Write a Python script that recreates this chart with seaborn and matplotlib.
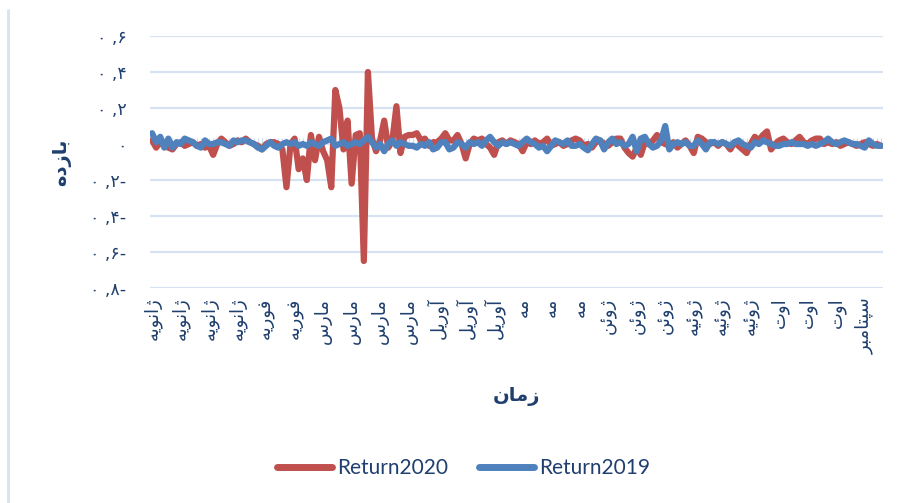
import numpy as np
import pandas as pd
import seaborn as sns
import matplotlib
matplotlib.use("Agg")
import matplotlib.pyplot as plt
from matplotlib.lines import Line2D

# daily returns (180 trading days, Jan -> Sep)
return2020 = [
    0.02, -0.02, 0.01, -0.01, -0.02, -0.03, 0.00, 0.01, -0.01, 0.00,
    0.01, -0.01, 0.00, -0.02, -0.01, -0.06, 0.00, 0.03, 0.01, -0.01,
    0.00, 0.02, 0.01, 0.03, 0.01, 0.00, -0.01, -0.03, 0.00, 0.01,
    0.01, 0.00, -0.03, -0.24, 0.00, 0.03, -0.14, -0.08, -0.20, 0.05,
    -0.09, 0.04, -0.04, -0.09, -0.24, 0.30, 0.20, -0.03, 0.13, -0.22,
    0.05, 0.06, -0.65, 0.40, 0.03, -0.04, 0.02, 0.13, -0.02, 0.02,
    0.21, -0.05, 0.04, 0.05, 0.05, 0.06, 0.02, 0.03, -0.01, 0.01,
    0.01, 0.03, 0.06, 0.02, 0.02, 0.05, 0.00, -0.08, 0.00, 0.03,
    0.02, 0.03, 0.00, -0.02, -0.06, 0.01, 0.02, 0.00, 0.02, 0.01,
    0.00, -0.04, 0.01, 0.00, 0.02, 0.00, 0.01, 0.03, -0.01, 0.00,
    0.01, -0.01, 0.00, 0.02, 0.03, 0.02, -0.01, 0.00, -0.02, 0.01,
    0.02, 0.00, -0.01, 0.01, 0.03, 0.03, -0.02, -0.05, -0.07, -0.02,
    -0.06, 0.01, 0.00, 0.02, 0.05, 0.01, 0.00, -0.01, 0.01, -0.02,
    0.00, 0.02, -0.01, -0.05, 0.04, 0.03, 0.01, 0.00, 0.01, -0.01,
    0.01, 0.00, -0.03, 0.01, -0.01, -0.03, -0.05, 0.00, 0.04, 0.02,
    0.05, 0.07, -0.03, 0.00, 0.02, 0.03, 0.01, 0.00, 0.02, 0.04,
    0.01, 0.00, 0.02, 0.03, 0.03, 0.00, 0.01, 0.00, 0.01, -0.01,
    0.00, 0.01, 0.00, -0.01, 0.00, 0.01, 0.00, -0.01, 0.00, -0.01,
]
return2019 = [
    0.06, 0.01, 0.04, -0.02, 0.03, -0.02, 0.01, 0.00, 0.03, 0.02,
    0.01, -0.01, -0.02, 0.02, 0.00, 0.00, 0.01, 0.01, 0.00, -0.01,
    0.02, 0.01, 0.02, 0.02, 0.01, 0.00, -0.02, -0.03, -0.01, 0.01,
    -0.01, -0.02, 0.00, 0.01, 0.00, 0.01, -0.01, 0.00, -0.01, 0.01,
    0.00, -0.01, 0.01, 0.02, 0.03, -0.01, 0.00, 0.01, -0.01, 0.00,
    0.01, 0.00, 0.02, 0.04, 0.01, -0.02, 0.00, -0.04, 0.00, 0.02,
    -0.01, 0.01, 0.00, -0.01, -0.01, -0.02, 0.00, -0.01, 0.01, -0.03,
    -0.02, 0.01, 0.01, -0.03, -0.02, 0.01, 0.00, -0.02, 0.01, 0.00,
    0.01, -0.01, 0.02, 0.04, 0.01, -0.01, 0.01, 0.00, 0.01, 0.00,
    -0.01, 0.01, 0.03, 0.01, 0.00, -0.02, -0.01, -0.04, -0.01, 0.02,
    0.01, 0.00, 0.02, -0.01, -0.01, 0.00, -0.02, -0.035, 0.00, 0.03,
    0.02, -0.03, 0.01, 0.03, 0.00, 0.01, -0.01, 0.00, 0.04, -0.04,
    0.03, 0.04, 0.00, -0.02, -0.01, 0.02, 0.10, -0.03, 0.00, 0.01,
    0.00, 0.01, -0.01, -0.01, 0.02, 0.00, -0.03, 0.01, 0.01, 0.00,
    0.01, 0.00, -0.01, 0.01, 0.02, 0.00, -0.01, -0.02, 0.01, 0.00,
    0.02, 0.01, 0.00, -0.01, -0.01, 0.00, 0.00, 0.01, 0.00, 0.00,
    0.00, -0.01, 0.00, -0.01, 0.00, 0.01, 0.03, 0.01, 0.00, 0.01,
    0.02, 0.01, 0.00, 0.00, -0.01, -0.02, 0.02, 0.00, -0.01, -0.01,
]

# Persian text, pre-shaped (presentation forms, visual order) since matplotlib
# has no arabic shaping / bidi
JAN = "\uFEEA\uFBFE\uFEEE\uFEE7\uFE8D\uFB8A"      # ژانویه
FEB = "\uFEEA\uFBFE\uFEAD\uFEEE\uFED3"            # فوریه
MAR = "\uFEB1\uFEAD\uFE8E\uFEE3"                  # مارس
APR = "\uFEDE\uFBFE\uFEAD\uFEED\uFE81"            # آوریل
MAY = "\uFEEA\uFEE3"                              # مه
JUN = "\uFEE6\uFE8B\uFEED\uFB8A"                  # ژوئن
JUL = "\uFEEA\uFBFF\uFE8B\uFEED\uFB8A"            # ژوئیه
AUG = "\uFE95\uFEED\uFE8D"                        # اوت
SEP = "\uFEAE\uFE92\uFEE3\uFE8E\uFE98\uFB59\uFEB3"  # سپتامبر
month_labels = [JAN] * 4 + [FEB] * 2 + [MAR] * 4 + [APR] * 3 + [MAY] * 3 + \
    [JUN] * 3 + [JUL] * 3 + [AUG] * 3 + [SEP]
y_label = "\uFEE9\uFEA9\uFEAF\uFE8E\uFE91"        # بازده
x_label = "\uFEE5\uFE8E\uFEE3\uFEAF"              # زمان
y_ticks = [-0.8, -0.6, -0.4, -0.2, 0.0, 0.2, 0.4, 0.6]
y_ticklabels = ["۰ ,۸-", "۰ ,۶-", "۰ ,۴-", "۰ ,۲-", "۰", "۰ ,۲", "۰ ,۴", "۰ ,۶"]
series_names = ["Return2020", "Return2019"]

n = len(return2020)
df = pd.DataFrame({
    "day": list(range(n)) * 2,
    "ret": return2020 + return2019,
    "series": [series_names[0]] * n + [series_names[1]] * n,
})

sns.set_style("white")
plt.rcParams["font.family"] = ["DejaVu Sans"]

text_col = "#1F3F6E"
grid_col = "#D7E3F2"
colors = {"Return2020": "#C0504D", "Return2019": "#4F81BD"}

fig = plt.figure(figsize=(8.99, 5.03), dpi=100)
ax = fig.add_axes([0.1669, 0.4274, 0.8154, 0.501])

sns.lineplot(data=df, x="day", y="ret", hue="series", hue_order=series_names,
             palette=colors, linewidth=4.5, ax=ax, legend=True)
for l in ax.get_lines():
    l.set_solid_joinstyle("round")
    l.set_solid_capstyle("round")

ax.set_ylim(-0.8, 0.6)
ax.set_xlim(-0.5, n - 0.5)
ax.set_yticks(y_ticks)
ax.set_yticklabels(y_ticklabels, color=text_col, fontsize=12.5)
ax.set_xticks(range(0, n, 7))
ax.set_xticklabels(month_labels, rotation=90, color=text_col, fontsize=13)
ax.tick_params(axis="both", length=0)
ax.tick_params(axis="y", pad=17)
ax.tick_params(axis="x", pad=7)
ax.grid(axis="y", color=grid_col, linewidth=1.6)
ax.set_axisbelow(True)
for s in ax.spines.values():
    s.set_visible(False)

# category axis crossing at zero with small tick marks
zero_frac = 0.8 / 1.4
sec = ax.secondary_xaxis(zero_frac)
sec.set_xticks(range(n))
sec.set_xticklabels([])
sec.tick_params(axis="x", direction="out", length=4, width=0.8, color="#C9DAEF")
sec.spines["bottom"].set_color(grid_col)
sec.spines["bottom"].set_linewidth(1.6)
for k in ["top", "left", "right"]:
    sec.spines[k].set_visible(False)

ax.set_ylabel(y_label, fontsize=14, fontweight="bold", color=text_col)
ax.yaxis.set_label_coords(-0.12, 0.5)
ax.yaxis.label.set_va("center")
ax.set_xlabel(x_label, fontsize=14, fontweight="bold", color=text_col)
ax.xaxis.set_label_coords(0.5, -0.43)
ax.xaxis.label.set_va("center")

handles, labels = ax.get_legend_handles_labels()
ax.get_legend().remove()
leg = fig.legend(handles, labels, loc="center", bbox_to_anchor=(0.5156, 0.0696),
                 ncol=2, frameon=False, handlelength=2.65, handletextpad=0.25,
                 columnspacing=1.45, prop={"family": "Lato", "size": 15})
for t in leg.get_texts():
    t.set_color(text_col)
for h in leg.legend_handles:
    h.set_linewidth(5)
    h.set_solid_capstyle("round")

fig.add_artist(Line2D([0.009, 0.009], [0.0, 0.98], transform=fig.transFigure,
                      color=grid_col, linewidth=2))

fig.savefig("out.png", dpi=100)
